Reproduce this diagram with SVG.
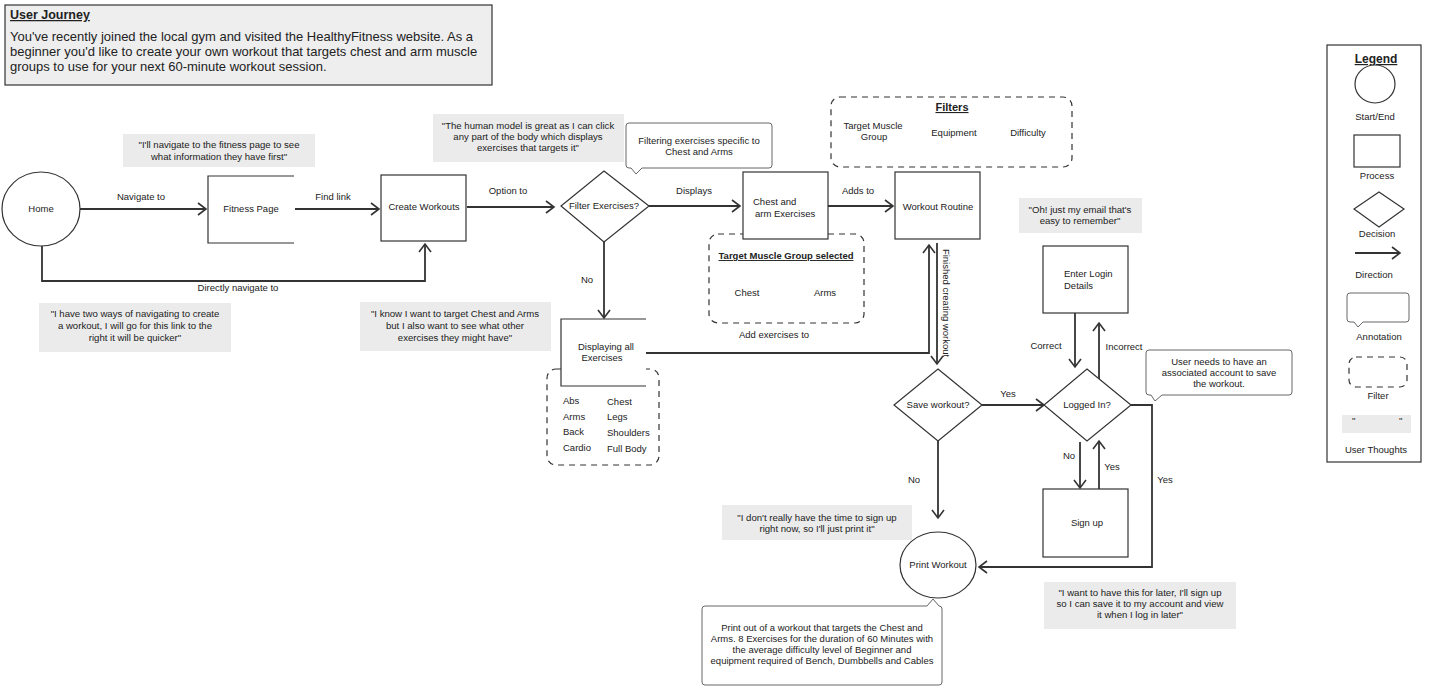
<svg xmlns="http://www.w3.org/2000/svg" width="1431" height="691" viewBox="0 0 1431 691">
<style>
text{font-family:"Liberation Sans",Arial,sans-serif;fill:#222;font-size:9.5px}
.m{text-anchor:middle}
.th{font-size:9.6px}
.b{font-weight:bold;text-decoration:underline}
.node{fill:#fff;stroke:#333;stroke-width:1.2}
.thought{fill:#ebebeb;stroke:none}
.ann{fill:#fff;stroke:#666;stroke-width:1}
.filt{fill:none;stroke:#333;stroke-width:1.2;stroke-dasharray:6 5}
.con{fill:none;stroke:#333;stroke-width:1.8}
</style>
<defs>
<marker id="ah" markerWidth="12" markerHeight="16" refX="9" refY="7" orient="auto" markerUnits="userSpaceOnUse">
<path d="M1,1 L9,7 L1,13" fill="none" stroke="#333" stroke-width="1.6"/>
</marker>
</defs>
<rect width="1431" height="691" fill="#fff"/>

<g id="intro">
<rect x="5" y="5" width="487" height="80" fill="#eee" stroke="#333" stroke-width="1.2"/>
<text x="10" y="19" class="b" style="font-size:12.5px">User Journey</text>
<text x="10" y="41" style="font-size:13px">You've recently joined the local gym and visited the HealthyFitness website. As a</text>
<text x="10" y="56" style="font-size:13px">beginner you'd like to create your own workout that targets chest and arm muscle</text>
<text x="10" y="71" style="font-size:13px">groups to use for your next 60-minute workout session.</text>
</g>

<g id="filters">
<rect x="831" y="97" width="241" height="70" rx="9" class="filt"/>
<text x="952" y="111" class="m b" style="font-size:11px">Filters</text>
<text x="873" y="129" class="m">Target Muscle</text>
<text x="874" y="140" class="m">Group</text>
<text x="954" y="136" class="m">Equipment</text>
<text x="1028" y="136" class="m">Difficulty</text>
</g>
<g id="target-muscle-selected">
<rect x="709" y="234" width="155" height="89" rx="9" class="filt"/>
<text x="786" y="259" class="m b">Target Muscle Group selected</text>
<text x="747" y="296" class="m">Chest</text>
<text x="825" y="296" class="m">Arms</text>
</g>
<g id="all-exercises-list">
<rect x="547" y="369" width="112" height="96" rx="9" class="filt"/>
<text x="563" y="404">Abs</text>
<text x="563" y="420">Arms</text>
<text x="563" y="435">Back</text>
<text x="563" y="451">Cardio</text>
<text x="607" y="405">Chest</text>
<text x="607" y="420">Legs</text>
<text x="607" y="436">Shoulders</text>
<text x="607" y="452">Full Body</text>
</g>

<g id="connectors">
<path class="con" d="M80,209 H206" marker-end="url(#ah)"/>
<path class="con" d="M295,209 H379" marker-end="url(#ah)"/>
<path class="con" d="M42,246 V281 H425 V244" marker-end="url(#ah)"/>
<path class="con" d="M467,207 H554" marker-end="url(#ah)"/>
<path class="con" d="M649,206 H740" marker-end="url(#ah)"/>
<path class="con" d="M828,206 H893" marker-end="url(#ah)"/>
<path class="con" d="M604,242 V318" marker-end="url(#ah)"/>
<path class="con" d="M646,353 H929 V245" marker-end="url(#ah)"/>
<path class="con" d="M937,243 V364" marker-end="url(#ah)"/>
<path class="con" d="M982,405 H1044" marker-end="url(#ah)"/>
<path class="con" d="M1075,313 V367" marker-end="url(#ah)"/>
<path class="con" d="M1099,379 V323" marker-end="url(#ah)"/>
<path class="con" d="M1080,442 V488" marker-end="url(#ah)"/>
<path class="con" d="M1099,489 V441" marker-end="url(#ah)"/>
<path class="con" d="M1131,405 H1152 V567 H979" marker-end="url(#ah)"/>
<path class="con" d="M938,441 V518" marker-end="url(#ah)"/>
<text x="141" y="200" class="m">Navigate to</text>
<text x="333" y="200" class="m">Find link</text>
<text x="238" y="291" class="m">Directly navigate to</text>
<text x="508" y="194" class="m">Option to</text>
<text x="694" y="194" class="m">Displays</text>
<text x="858" y="194" class="m">Adds to</text>
<text x="587" y="283" class="m">No</text>
<text x="774" y="338" class="m">Add exercises to</text>
<text transform="translate(943,303) rotate(90)" class="m">Finished creating workout</text>
<text x="1008" y="397" class="m">Yes</text>
<text x="1046" y="349" class="m">Correct</text>
<text x="1124" y="350" class="m">Incorrect</text>
<text x="1069" y="459" class="m">No</text>
<text x="1112" y="470" class="m">Yes</text>
<text x="1165" y="483" class="m">Yes</text>
<text x="914" y="483" class="m">No</text>
</g>

<g id="home">
<ellipse cx="41" cy="209" rx="39" ry="37" class="node"/>
<text x="41" y="212" class="m">Home</text>
</g>
<g id="fitness-page">
<rect x="208" y="176" width="86" height="67" fill="#fff" stroke="none"/>
<path d="M294,176 H208 V243 H294" fill="none" stroke="#333" stroke-width="1.2"/>
<text x="251" y="212" class="m">Fitness Page</text>
</g>
<g id="create-workouts">
<rect x="381" y="175" width="85" height="66" class="node"/>
<text x="424" y="210" class="m">Create Workouts</text>
</g>
<g id="filter-exercises">
<polygon points="604,171 649,206 604,242 561,206" class="node"/>
<text x="604" y="209" class="m">Filter Exercises?</text>
</g>
<g id="chest-arm-exercises">
<rect x="743" y="172" width="85" height="67" class="node"/>
<text x="753" y="205">Chest and</text>
<text x="755" y="217">arm Exercises</text>
</g>
<g id="workout-routine">
<rect x="895" y="172" width="85" height="67" class="node"/>
<text x="938" y="210" class="m">Workout Routine</text>
</g>
<g id="displaying-all">
<rect x="561" y="319" width="85" height="67" fill="#fff" stroke="none"/>
<path d="M646,319 H561 V386 H646" fill="none" stroke="#333" stroke-width="1.2"/>
<text x="606" y="350" class="m">Displaying all</text>
<text x="602" y="361" class="m">Exercises</text>
</g>
<g id="save-workout">
<polygon points="938,369 982,405 938,441 894,405" class="node"/>
<text x="938" y="408" class="m">Save workout?</text>
</g>
<g id="logged-in">
<polygon points="1087,369 1131,405 1087,441 1044,405" class="node"/>
<text x="1087" y="408" class="m">Logged In?</text>
</g>
<g id="enter-login">
<rect x="1043" y="246" width="85" height="67" class="node"/>
<text x="1064" y="277">Enter Login</text>
<text x="1064" y="289">Details</text>
</g>
<g id="sign-up">
<rect x="1043" y="489" width="85" height="68" class="node"/>
<text x="1087" y="526" class="m">Sign up</text>
</g>
<g id="print-workout">
<ellipse cx="938" cy="565" rx="38" ry="33" class="node"/>
<text x="938" y="568" class="m">Print Workout</text>
</g>

<g id="thought-fitness">
<rect x="123" y="134" width="192" height="33" class="thought"/>
<text x="219" y="148" class="m th">"I'll navigate to the fitness page to see</text>
<text x="219" y="160" class="m th">what information they have first"</text>
</g>
<g id="thought-human-model">
<rect x="433" y="114" width="191" height="48" class="thought"/>
<text x="528" y="129" class="m th">"The human model is great as I can click</text>
<text x="528" y="140" class="m th">any part of the body which displays</text>
<text x="528" y="151" class="m th">exercises that targets it"</text>
</g>
<g id="thought-two-ways">
<rect x="39" y="303" width="192" height="49" class="thought"/>
<text x="135" y="317" class="m th">"I have two ways of navigating to create</text>
<text x="135" y="329" class="m th">a workout, I will go for this link to the</text>
<text x="135" y="341" class="m th">right it will be quicker"</text>
</g>
<g id="thought-chest-arms">
<rect x="360" y="302" width="191" height="49" class="thought"/>
<text x="455" y="317" class="m th">"I know I want to target Chest and Arms</text>
<text x="455" y="329" class="m th">but I also want to see what other</text>
<text x="455" y="341" class="m th">exercises they might have"</text>
</g>
<g id="thought-email">
<rect x="1019" y="198" width="123" height="35" class="thought"/>
<text x="1080" y="213" class="m th">"Oh! just my email that's</text>
<text x="1080" y="224" class="m th">easy to remember"</text>
</g>
<g id="thought-no-time">
<rect x="722" y="505" width="190" height="35" class="thought"/>
<text x="817" y="521" class="m th">"I don't really have the time to sign up</text>
<text x="817" y="532" class="m th">right now, so I'll just print it"</text>
</g>
<g id="thought-later">
<rect x="1044" y="582" width="192" height="47" class="thought"/>
<text x="1140" y="596" class="m th">"I want to have this for later, I'll sign up</text>
<text x="1140" y="607" class="m th">so I can save it to my account and view</text>
<text x="1140" y="618" class="m th">it when I log in later"</text>
</g>

<g id="annotation-filtering">
<path class="ann" d="M629,123 H769 Q772,123 772,126 V165 Q772,168 769,168 H642 L636,174 L631,168 H629 Q626,168 626,165 V126 Q626,123 629,123 Z"/>
<text x="699" y="144" class="m">Filtering exercises specific to</text>
<text x="699" y="155" class="m">Chest and Arms</text>
</g>
<g id="annotation-account">
<path class="ann" d="M1149,350 H1289 Q1292,350 1292,353 V392 Q1292,395 1289,395 H1162 L1155,401 L1151,395 H1149 Q1146,395 1146,392 V353 Q1146,350 1149,350 Z"/>
<text x="1219" y="365" class="m">User needs to have an</text>
<text x="1219" y="376" class="m">associated account to save</text>
<text x="1219" y="387" class="m">the workout.</text>
</g>
<g id="annotation-print">
<path class="ann" d="M705,606 H927 L933,599 L939,606 Q942,606 942,609 V682 Q942,685 939,685 H705 Q702,685 702,682 V609 Q702,606 705,606 Z"/>
<text x="822" y="631" class="m">Print out of a workout that targets the Chest and</text>
<text x="822" y="642" class="m">Arms. 8 Exercises for the duration of 60 Minutes with</text>
<text x="822" y="653" class="m">the average difficulty level of Beginner and</text>
<text x="822" y="664" class="m">equipment required of Bench, Dumbbells and Cables</text>
</g>

<g id="legend">
<rect x="1327" y="45" width="94" height="417" fill="#fff" stroke="#333" stroke-width="1.2"/>
<text x="1376" y="63" class="m b" style="font-size:12px">Legend</text>
<ellipse cx="1375" cy="84" rx="20" ry="19" class="node"/>
<text x="1375" y="120" class="m">Start/End</text>
<rect x="1354" y="135" width="46" height="32" class="node"/>
<text x="1377" y="179" class="m">Process</text>
<polygon points="1379,192 1404,209 1379,227 1354,209" class="node"/>
<text x="1377" y="237" class="m">Decision</text>
<path class="con" d="M1355,253 H1400" marker-end="url(#ah)"/>
<text x="1374" y="278" class="m">Direction</text>
<path class="ann" d="M1350,293 H1406 Q1409,293 1409,296 V319 Q1409,322 1406,322 H1363 L1358,327 L1354,322 H1350 Q1347,322 1347,319 V296 Q1347,293 1350,293 Z"/>
<text x="1379" y="340" class="m">Annotation</text>
<rect x="1349" y="357" width="58" height="30" rx="7" class="filt"/>
<text x="1378" y="399" class="m">Filter</text>
<rect x="1342" y="415" width="69" height="18" class="thought"/>
<text x="1352" y="424" class="th">"</text>
<text x="1399" y="424" class="th">"</text>
<text x="1376" y="453" class="m">User Thoughts</text>
</g>
</svg>
